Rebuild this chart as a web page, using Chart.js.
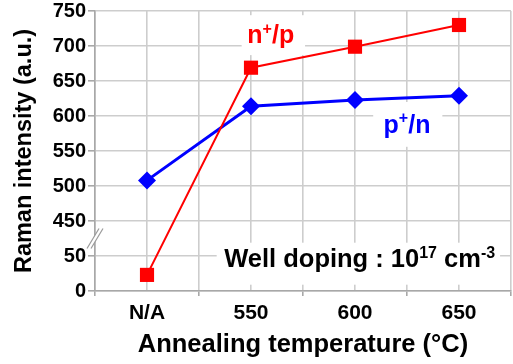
<!DOCTYPE html>
<html>
<head>
<meta charset="utf-8">
<script src="https://cdn.jsdelivr.net/npm/chart.js@4/dist/chart.umd.min.js"></script>
<style>
  html, body { margin: 0; padding: 0; background: #fff; overflow: hidden; }
  #wrap { width: 513px; height: 364px; position: relative; }
</style>
</head>
<body>
<div id="wrap"><canvas id="grafico"></canvas></div>
<script>
// --- dados ---
const categorias = ['N/A', '550', '600', '650'];
const valoresNP = [23, 669, 699, 730];   // n+/p (vermelho)
const valoresPN = [508, 614, 623, 629];  // p+/n (azul)
const ticksY = [0, 50, 450, 500, 550, 600, 650, 700, 750];

// eixo quebrado: 0-50 fica igual, 450-750 desce 350
const CORTE = 350;
function paraEixo(v) { return v <= 50 ? v : v - CORTE; }
function doEixo(d) { return d <= 50 ? d : d + CORTE; }

// cada categoria ocupa 2 unidades no eixo x (linha de grade no meio e nas bordas)
const pontos = vals => vals.map((v, i) => ({ x: 2 * i + 1, y: paraEixo(v) }));

const FONTE = "'Liberation Sans', Arial, sans-serif";
const GRADE = '#cdcdcd';

// escreve texto com partes sobrescritas, centrado em (cx, baseline)
function textoComSup(ctx, partes, cx, base, tam, cor) {
  const tamSup = Math.round(tam * 0.64);
  let total = 0;
  partes.forEach(p => {
    ctx.font = `bold ${p.sup ? tamSup : tam}px ${FONTE}`;
    p.w = ctx.measureText(p.t).width;
    total += p.w;
  });
  let x = cx - total / 2;
  ctx.fillStyle = cor;
  ctx.textAlign = 'left';
  ctx.textBaseline = 'alphabetic';
  partes.forEach(p => {
    ctx.font = `bold ${p.sup ? tamSup : tam}px ${FONTE}`;
    ctx.fillText(p.t, x, p.sup ? base - tam * 0.38 : base);
    x += p.w;
  });
}

const rotulos = {
  id: 'rotulos',
  beforeDatasetsDraw(chart) {
    const ctx = chart.ctx;
    const sx = chart.scales.x, sy = chart.scales.y;
    const X = v => sx.getPixelForValue(v), Y = v => sy.getPixelForValue(v);
    ctx.save();
    ctx.fillStyle = '#fff';
    // caixas brancas por baixo dos textos
    ctx.fillRect(X(2.82), Y(394), X(4.04) - X(2.82), Y(337) - Y(394));
    ctx.fillRect(X(5.35), Y(270), X(6.68) - X(5.35), Y(206) - Y(270));
    ctx.fillRect(X(2.34), Y(69), X(7.79) - X(2.34), Y(9) - Y(69));

    textoComSup(ctx, [{ t: 'n' }, { t: '+', sup: true }, { t: '/p' }], X(3.38), Y(354), 25, '#ff0000');
    textoComSup(ctx, [{ t: 'p' }, { t: '+', sup: true }, { t: '/n' }], X(6.0), Y(226), 25, '#0000ff');
    textoComSup(ctx, [{ t: 'Well doping : 10' }, { t: '17', sup: true }, { t: ' cm' }, { t: '-3', sup: true }],
      X(5.09), Y(34), 25.5, '#000');
    ctx.restore();
  },
  afterDraw(chart) {
    // marca de quebra no eixo y
    const ctx = chart.ctx;
    const sy = chart.scales.y;
    const xa = chart.chartArea.left;
    const yc = sy.getPixelForValue(75);
    ctx.save();
    ctx.fillStyle = '#fff';
    ctx.beginPath();
    ctx.moveTo(xa - 8, yc + 10);
    ctx.lineTo(xa + 4, yc - 10);
    ctx.lineTo(xa + 8, yc - 10);
    ctx.lineTo(xa - 4, yc + 10);
    ctx.closePath();
    ctx.fill();
    ctx.strokeStyle = '#9a9a9a';
    ctx.lineWidth = 1.2;
    [-2, 2].forEach(d => {
      ctx.beginPath();
      ctx.moveTo(xa + d - 6, yc + 10);
      ctx.lineTo(xa + d + 6, yc - 10);
      ctx.stroke();
    });
    ctx.restore();
  }
};

new Chart(document.getElementById('grafico'), {
  type: 'line',
  data: {
    datasets: [
      {
        label: 'n+/p',
        data: pontos(valoresNP),
        borderColor: '#ff0000',
        backgroundColor: '#ff0000',
        borderWidth: 2,
        pointStyle: 'rect',
        pointRadius: 10,
        pointBorderWidth: 0,
        tension: 0
      },
      {
        label: 'p+/n',
        data: pontos(valoresPN),
        borderColor: '#0000ff',
        backgroundColor: '#0000ff',
        borderWidth: 3,
        pointStyle: 'rectRot',
        pointRadius: 9,
        pointBorderWidth: 0,
        tension: 0
      }
    ]
  },
  options: {
    responsive: true,
    maintainAspectRatio: false,
    animation: false,
    layout: { autoPadding: false, padding: { top: 11, right: 2, left: 0, bottom: 0 } },
    plugins: { legend: { display: false }, tooltip: { enabled: false } },
    scales: {
      x: {
        type: 'linear',
        min: 0,
        max: 2 * categorias.length,
        afterFit: s => { s.height = 73; s.paddingLeft = 0; s.paddingRight = 0; },
        afterBuildTicks: s => {
          s.ticks = [];
          for (let i = 0; i <= 2 * categorias.length; i++) s.ticks.push({ value: i });
        },
        ticks: {
          autoSkip: false,
          maxRotation: 0,
          padding: 5,
          color: '#000',
          font: { family: FONTE, size: 21, weight: 'bold' },
          callback: v => (v % 2 === 1 ? categorias[(v - 1) / 2] : '')
        },
        grid: {
          color: GRADE,
          lineWidth: 1.6,
          tickLength: 5,
          tickColor: c => (c.tick && c.tick.value % 2 === 0 ? '#a8a8a8' : 'rgba(0,0,0,0)')
        },
        border: { color: '#a8a8a8', width: 1.6 },
        title: {
          display: true,
          text: 'Annealing temperature (°C)',
          color: '#000',
          font: { family: FONTE, size: 25.5, weight: 'bold', lineHeight: 1 },
          padding: { top: 0, bottom: 6 }
        }
      },
      y: {
        type: 'linear',
        min: paraEixo(ticksY[0]),
        max: paraEixo(ticksY[ticksY.length - 1]),
        afterFit: s => { s.width = 95; s.paddingTop = 0; s.paddingBottom = 0; },
        ticks: {
          stepSize: 50,
          padding: 2,
          color: '#000',
          font: { family: FONTE, size: 20, weight: 'bold' },
          callback: v => {
            const real = doEixo(v);
            return ticksY.includes(real) ? String(real) : '';
          }
        },
        grid: {
          color: c => (c.tick && c.tick.value === 75 ? 'rgba(0,0,0,0)' : GRADE),
          lineWidth: 1.6,
          tickLength: 7,
          tickColor: '#a8a8a8'
        },
        border: { color: '#a8a8a8', width: 1.6 },
        title: {
          display: true,
          text: 'Raman intensity (a.u.)',
          color: '#000',
          font: { family: FONTE, size: 23.5, weight: 'bold', lineHeight: 1 },
          padding: { top: 13, bottom: 0 }
        }
      }
    }
  },
  plugins: [rotulos]
});
</script>
</body>
</html>
